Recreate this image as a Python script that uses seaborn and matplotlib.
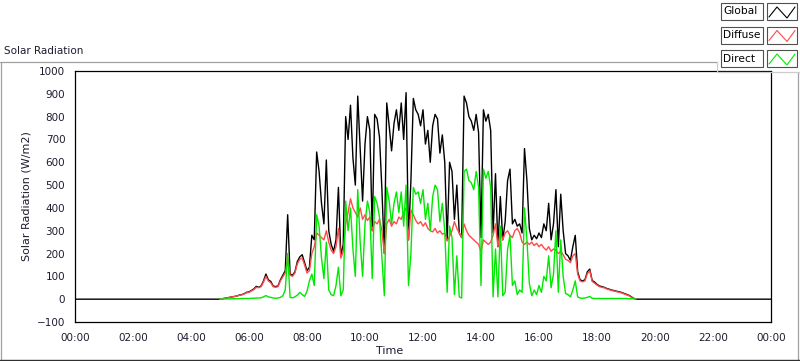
import numpy as np
import pandas as pd
import seaborn as sns
import matplotlib
matplotlib.use("Agg")
import matplotlib.pyplot as plt
from matplotlib.lines import Line2D
from matplotlib.patches import Rectangle
from matplotlib.ticker import MultipleLocator

# 5-minute samples starting 05:00 (W/m2), one row per hour
global_rad = [
    0, 2, 4, 6, 8, 10, 12, 14, 18, 20, 24, 30,              # 05
    32, 38, 45, 56, 52, 58, 80, 110, 85, 78, 58, 55,        # 06
    58, 85, 105, 125, 370, 110, 105, 120, 165, 185, 195, 160,  # 07
    125, 140, 280, 260, 645, 560, 420, 330, 610, 300, 240, 210,  # 08
    260, 490, 190, 240, 800, 700, 850, 620, 500, 890, 660, 430,  # 09
    680, 800, 740, 300, 810, 790, 710, 480, 200, 860, 760, 650,  # 10
    770, 830, 740, 860, 700, 905, 260, 520, 880, 830, 810, 760,  # 11
    830, 680, 740, 600, 760, 810, 790, 640, 720, 600, 260, 600,  # 12
    560, 350, 500, 290, 270, 890, 860, 800, 780, 740, 810, 730,  # 13
    270, 830, 780, 810, 740, 290, 550, 230, 450, 260, 340, 520,  # 14
    570, 330, 350, 320, 330, 290, 660, 520, 310, 260, 280, 265,  # 15
    290, 270, 330, 300, 420, 260, 330, 480, 230, 460, 300, 200,  # 16
    190, 170, 230, 280, 120, 85, 80, 85, 120, 132, 82, 75,   # 17
    65, 58, 55, 52, 47, 44, 40, 38, 35, 33, 30, 26,          # 18
    22, 18, 12, 5, 0,                                        # 19
]

diffuse_rad = [
    0, 2, 4, 6, 8, 10, 12, 14, 17, 19, 23, 28,
    30, 36, 42, 52, 50, 55, 75, 100, 80, 72, 55, 52,
    55, 80, 98, 115, 185, 105, 100, 115, 155, 175, 180, 150,
    115, 125, 200, 230, 290, 280, 270, 260, 300, 250, 215, 200,
    230, 310, 180, 210, 330, 380, 440, 400, 380, 360, 400, 350,
    370, 345, 360, 300, 340, 330, 350, 300, 200, 330, 350, 320,
    340, 330, 360, 350, 380, 400, 260, 390, 370, 345, 330, 340,
    320, 335, 310, 300, 295, 310, 290, 300, 285, 290, 255, 275,
    300, 340, 310, 290, 270, 330, 300, 280, 270, 260, 250, 240,
    210, 260, 250, 240, 250, 280, 330, 230, 300, 260, 290, 300,
    280, 270, 300, 310, 290, 250, 240, 250, 240, 250, 235, 245,
    230, 240, 225, 215, 230, 210, 220, 215, 200, 210, 195, 175,
    170, 160, 190, 200, 110, 80, 76, 80, 112, 125, 78, 70,
    62, 55, 52, 50, 45, 42, 38, 36, 33, 31, 28, 24,
    20, 16, 10, 4, 0,
]

direct_rad = [
    0, 1, 1, 1, 1, 2, 2, 2, 2, 3, 3, 3,
    3, 4, 4, 5, 5, 6, 10, 16, 10, 8, 5, 4,
    5, 8, 15, 40, 200, 8, 6, 10, 18, 30, 20, 12,
    35, 80, 110, 60, 370, 320, 180, 90, 250, 40, 20, 15,
    60, 140, 15, 40, 430, 300, 400, 220, 100, 480, 250, 100,
    330, 430, 380, 90, 450, 420, 360, 180, 15, 490, 430, 330,
    420, 470, 380, 470, 320, 500, 60, 200, 490, 460, 470, 420,
    480, 350, 420, 300, 450, 500, 480, 340, 420, 300, 30, 320,
    270, 20, 190, 10, 5, 560, 570, 520, 510, 480, 560, 490,
    60, 570, 530, 560, 490, 10, 220, 10, 320, 15, 30, 220,
    280, 60, 80, 20, 40, 30, 400, 260, 70, 15, 40, 20,
    60, 30, 100, 80, 190, 50, 110, 300, 30, 260, 100, 25,
    20, 10, 40, 80, 10, 5, 4, 5, 8, 12, 4, 3,
    3, 3, 3, 3, 3, 3, 3, 3, 3, 3, 3, 3,
    3, 2, 2, 2, 0,
]

series_names = ["Global", "Diffuse", "Direct"]
series_colors = {"Global": "#000000", "Diffuse": "#ff4a4a", "Direct": "#00e800"}
x_ticks = list(range(0, 25, 2))
x_labels = [f"{h % 24:02d}:00" for h in x_ticks]

W, H = 800, 361
def fx(x): return x / W
def fy(y): return 1 - y / H

hours = (300 + 5 * np.arange(len(global_rad))) / 60.0
frames = [
    pd.DataFrame({"hours": np.r_[0.0, hours, 24.0], "value": [0] + global_rad + [0], "series": "Global"}),
    pd.DataFrame({"hours": hours, "value": diffuse_rad, "series": "Diffuse"}),
    pd.DataFrame({"hours": hours, "value": direct_rad, "series": "Direct"}),
]
df = pd.concat(frames, ignore_index=True)

sns.set_style("white")
plt.rcParams["font.family"] = ["DejaVu Sans"]
txt = "#1c1c30"

fig = plt.figure(figsize=(8, 3.61), dpi=100)
ax = fig.add_axes([fx(75), fy(322), (771 - 75) / W, (322 - 71) / H])
sns.lineplot(data=df, x="hours", y="value", hue="series", hue_order=series_names,
             palette=series_colors, estimator=None, linewidth=1.0, legend=False, ax=ax)

ax.set_xlim(0, 24)
ax.set_ylim(-100, 1000)
ax.set_xticks(x_ticks)
ax.set_xticklabels(x_labels)
ax.xaxis.set_minor_locator(MultipleLocator(0.25))
ax.yaxis.set_major_locator(MultipleLocator(100))
ax.tick_params(axis="both", which="major", direction="out", length=4, width=0.8,
               color="black", labelsize=7.5, labelcolor=txt, pad=3)
ax.tick_params(axis="x", which="minor", direction="out", length=2, width=0.8, color="black")
ax.tick_params(axis="x", which="major", pad=4)
for s in ax.spines.values():
    s.set_color("black")
    s.set_linewidth(0.9)
ax.set_xlabel("Time", fontsize=8, color=txt)
ax.set_ylabel("Solar Radiation (W/m2)", fontsize=8, color=txt)
ax.xaxis.set_label_coords(0.452, -0.095)
ax.yaxis.set_label_coords(-0.062, 0.5)

fig.text(fx(4), fy(51), "Solar Radiation", fontsize=7.5, color=txt, va="center", ha="left")

# panel frame
gray = "#a0a0a0"
fig.add_artist(Line2D([fx(0), fx(717)], [fy(61.5), fy(61.5)], color=gray, lw=0.9, transform=fig.transFigure))
fig.add_artist(Line2D([fx(0.5), fx(0.5)], [fy(61.5), fy(360)], color=gray, lw=0.9, transform=fig.transFigure))
fig.add_artist(Line2D([fx(797.5), fx(797.5)], [fy(72), fy(360)], color=gray, lw=0.9, transform=fig.transFigure))
fig.add_artist(Line2D([fx(0), fx(800)], [fy(359.5), fy(359.5)], color="#303030", lw=1.0, transform=fig.transFigure))
fig.add_artist(Line2D([fx(717), fx(717), fx(799)], [fy(61.5), fy(72), fy(72)], color="#cccccc", lw=0.9,
                      transform=fig.transFigure))

# legend
for name, top in zip(series_names, [3, 26.5, 50]):
    fig.add_artist(Rectangle((fx(721), fy(top + 17)), 42 / W, 17 / H, transform=fig.transFigure,
                             facecolor="white", edgecolor="#505050", lw=0.8))
    fig.add_artist(Rectangle((fx(767), fy(top + 17)), 30 / W, 17 / H, transform=fig.transFigure,
                             facecolor="white", edgecolor="#505050", lw=0.8))
    fig.text(fx(723), fy(top + 8.5), name, fontsize=7.7, color="black", va="center", ha="left")
    zx = [769, 777, 787, 795]
    zy = [top + 14, top + 4, top + 15, top + 4]
    fig.add_artist(Line2D([fx(v) for v in zx], [fy(v) for v in zy], color=series_colors[name], lw=0.8,
                          transform=fig.transFigure))

fig.savefig("out.png", dpi=100)
